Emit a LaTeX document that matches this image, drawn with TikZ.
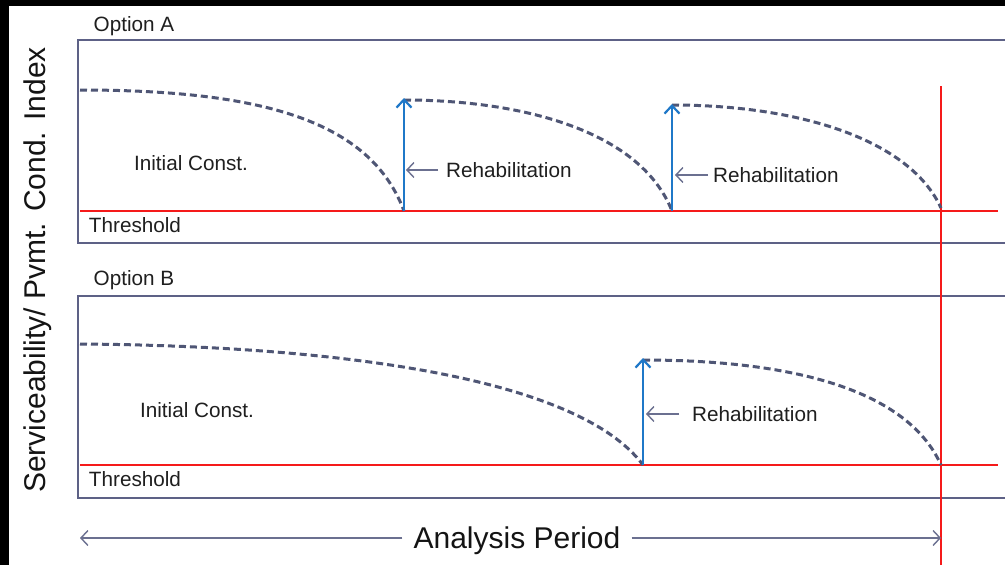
\documentclass[tikz,border=0pt]{standalone}
\usepackage{fontspec}
\setmainfont{Liberation Sans}
\usetikzlibrary{arrows.meta}
\definecolor{boxcol}{HTML}{5D6186}
\definecolor{curvecol}{HTML}{4F5675}
\definecolor{bluecol}{HTML}{1F78C8}
\definecolor{greyarr}{HTML}{6B7090}
\definecolor{redcol}{HTML}{F51A1A}
\tikzset{
  lbl/.style={font=\fontsize{20.7}{24}\selectfont, inner sep=0pt, text=black!88},
  big/.style={font=\fontsize{30}{34}\selectfont, inner sep=0pt, text=black!92},
  boxline/.style={draw=boxcol, line width=2.4pt},
  thr/.style={draw=redcol, line width=2pt},
  curve/.style={draw=curvecol, line width=3pt, dash pattern=on 7pt off 4pt},
  rehab/.style={draw=bluecol, line width=2.2pt, -{Straight Barb[length=8pt,width=15pt,line width=2.2pt]}},
  ptr/.style={draw=greyarr, line width=1.4pt, -{Straight Barb[length=7pt,width=15pt,line width=1.4pt]}},
}
\begin{document}
\begin{tikzpicture}[x=1pt,y=-1pt]
\useasboundingbox (0,0) rectangle (1005,565);
\fill[white] (0,0) rectangle (1005,565);
% black frame bands
\fill[black] (0,0) rectangle (1005,6);
\fill[black] (0,0) rectangle (9,565);

% boxes (open on the right)
\draw[boxline] (1005,40) -- (78,40) -- (78,243) -- (1005,243);
\draw[boxline] (1005,296) -- (78,296) -- (78,498) -- (1005,498);

% coordinates
\coordinate (a0) at (80,90);
\coordinate (a1) at (404,211);
\coordinate (a1t) at (404,98);
\coordinate (a2s) at (404,100);
\coordinate (a2) at (672,211);
\coordinate (a2t) at (672,104);
\coordinate (a3s) at (672,105);
\coordinate (a3) at (941,208);
\coordinate (b0) at (80,344);
\coordinate (b1) at (643,465);
\coordinate (b1t) at (643,358);
\coordinate (b2s) at (643,360);
\coordinate (b2) at (941,465);
\coordinate (thAl) at (80,211);
\coordinate (thAr) at (998,211);
\coordinate (thBl) at (80,465);
\coordinate (thBr) at (998,465);
\coordinate (vTop) at (941,86);
\coordinate (vBot) at (941,565);
\coordinate (apL) at (80,538);
\coordinate (apR) at (941,538);

% thresholds and end line
\draw[thr] (thAl) -- (thAr);
\draw[thr] (thBl) -- (thBr);
\draw[thr] (vTop) -- (vBot);

% curves
\draw[curve] (a0) .. controls (260,90) and (370,120) .. (a1);
\draw[curve] (a2s) .. controls (520,100) and (640,130) .. (a2);
\draw[curve] (a3s) .. controls (800,105) and (910,140) .. (a3);
\draw[curve] (b0) .. controls (350,346) and (580,380) .. (b1);
\draw[curve] (b2s) .. controls (780,360) and (905,385) .. (b2);

% rehabilitation arrows
\draw[rehab] (a1) -- (a1t);
\draw[rehab] (a2) -- (a2t);
\draw[rehab] (b1) -- (b1t);

% labels
\node[lbl] (optA) at (134,26) {Option A};
\node[lbl] (optB) at (134,280) {Option B};
\node[lbl] (initA) at (191,163) {Initial Const.};
\node[lbl] (initB) at (197,410) {Initial Const.};
\node[lbl] (thrA) at (135,225) {Threshold};
\node[lbl] (thrB) at (135,479) {Threshold};
\node[lbl, anchor=west, inner xsep=8pt] (rA1) at (438,170) {Rehabilitation};
\node[lbl, anchor=west, inner xsep=5pt] (rA2) at (708,175) {Rehabilitation};
\node[lbl, anchor=west, inner xsep=13pt] (rB1) at (679,414) {Rehabilitation};
\coordinate (pA1) at (406,170);
\coordinate (pA2) at (675,175);
\coordinate (pB1) at (646,414);
\draw[ptr] (rA1.west) -- (pA1);
\draw[ptr] (rA2.west) -- (pA2);
\draw[ptr] (rB1.west) -- (pB1);

% y axis label
\node[big, rotate=90] (ylab) at (38,270) {Serviceability/ Pvmt. Cond. Index};

% analysis period
\node[big, inner xsep=11pt] (ap) at (517,541) {Analysis Period};
\draw[ptr] (ap.west |- apL) -- (apL);
\draw[ptr] (ap.east |- apR) -- (apR);
\end{tikzpicture}
\end{document}
